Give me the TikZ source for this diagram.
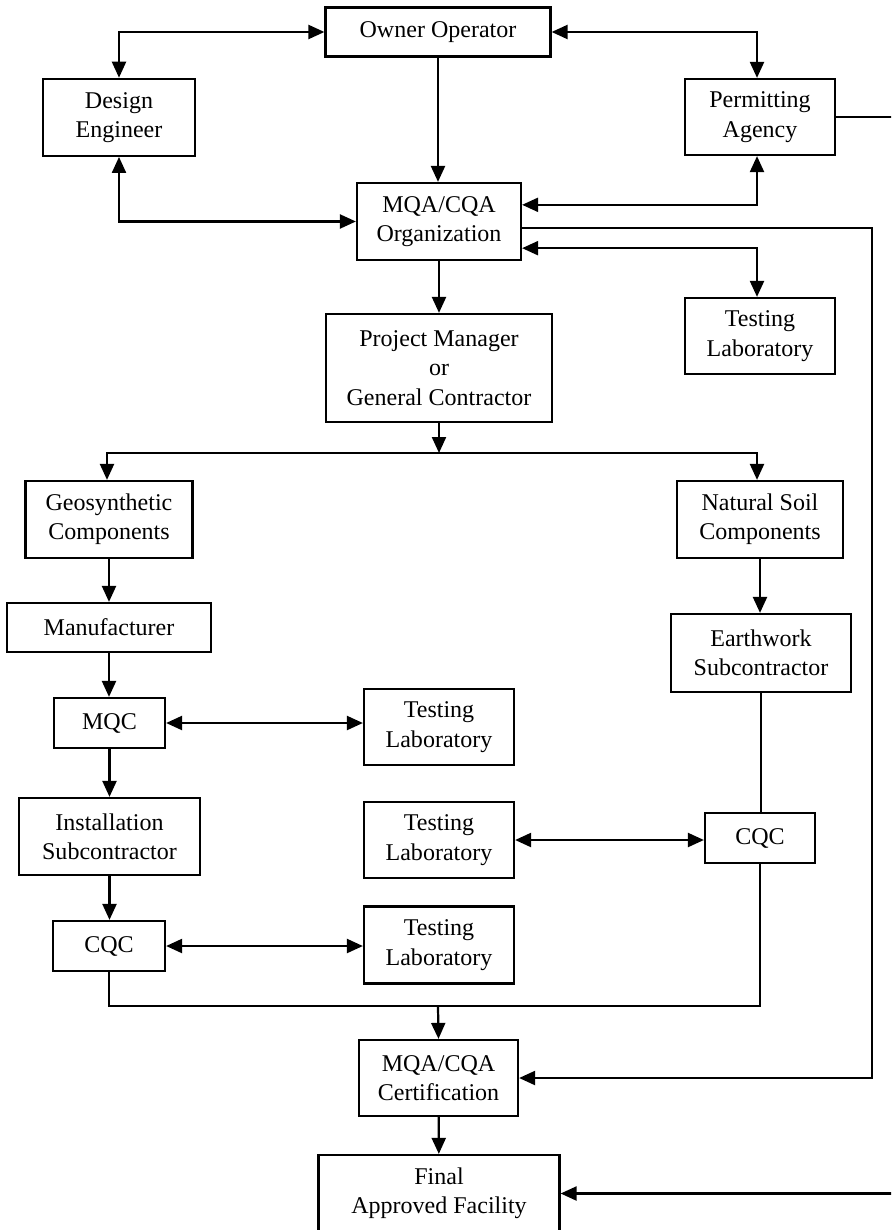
\documentclass[tikz,border=0pt]{standalone}
\usepackage{fontspec}
\setmainfont{Liberation Serif}
\usetikzlibrary{arrows.meta}

\begin{document}
\begin{tikzpicture}[>={Triangle[length=4.8mm, width=4.2mm]}, line width=1.9pt,
  box/.style={draw, align=center, inner sep=2pt, font=\fontsize{20.5}{25}\selectfont}]
\clip (0,0) rectangle (26.73,-36.9);
% top level
\node[box, minimum width=6.75cm, minimum height=1.47cm] (owner) at (13.14,-0.96) {Owner Operator};
\node[box, minimum width=4.56cm, minimum height=2.31cm] (design) at (3.57,-3.52) {Design\\Engineer};
\node[box, minimum width=4.5cm, minimum height=2.28cm] (permit) at (22.8,-3.51) {Permitting\\Agency};
\node[box, minimum width=4.92cm, minimum height=2.31cm] (mqaorg) at (13.17,-6.645) {MQA/CQA\\Organization};
\node[box, minimum width=4.5cm, minimum height=2.28cm] (lab1) at (22.8,-10.08) {Testing\\Laboratory};
\node[box, minimum width=6.78cm, minimum height=3.24cm] (pm) at (13.17,-11.04) {Project Manager\\or\\General Contractor};
\coordinate (split) at (13.17,-13.59);
% geosynthetic branch
\node[box, minimum width=5.01cm, minimum height=2.31cm] (geo) at (3.27,-15.585) {Geosynthetic\\Components};
\node[box, minimum width=6.12cm, minimum height=1.47cm] (manuf) at (3.27,-18.825) {Manufacturer};
\node[box, minimum width=3.33cm, minimum height=1.5cm] (mqc) at (3.285,-21.69) {MQC};
\node[box, minimum width=4.5cm, minimum height=2.28cm] (lab2) at (13.17,-21.81) {Testing\\Laboratory};
\node[box, minimum width=5.43cm, minimum height=2.31cm] (inst) at (3.285,-25.095) {Installation\\Subcontractor};
\node[box, minimum width=3.36cm, minimum height=1.5cm] (cqcl) at (3.27,-28.38) {CQC};
\node[box, minimum width=4.5cm, minimum height=2.31cm] (lab4) at (13.17,-28.35) {Testing\\Laboratory};
% natural soil branch
\node[box, minimum width=4.98cm, minimum height=2.31cm] (soil) at (22.8,-15.585) {Natural Soil\\Components};
\node[box, minimum width=5.4cm, minimum height=2.34cm] (earth) at (22.83,-19.59) {Earthwork\\Subcontractor};
\node[box, minimum width=4.5cm, minimum height=2.28cm] (lab3) at (13.17,-25.2) {Testing\\Laboratory};
\node[box, minimum width=3.3cm, minimum height=1.5cm] (cqcr) at (22.8,-25.14) {CQC};
% bottom
\coordinate (merge) at (13.14,-30.18);
\node[box, minimum width=4.77cm, minimum height=2.28cm] (cert) at (13.155,-32.34) {MQA/CQA\\Certification};
\node[box, minimum width=7.23cm, minimum height=2.31cm] (final) at (13.17,-35.805) {Final\\Approved Facility};
\coordinate (rail) at (26.16,-18);
\coordinate (offrail) at (26.9,-18);

\draw[<->] (owner.west) -| (design.north);
\draw[<->] (owner.east) -| ([xshift=-0.09cm]permit.north);
\draw[->] (owner.south) -- (owner.south |- mqaorg.north);
\draw[<->] (design.south) |- (mqaorg.west);
\draw[<->] ([yshift=0.5cm]mqaorg.east) -| ([xshift=-0.09cm]permit.south);
\draw[->] ([yshift=-0.2cm]mqaorg.east) -| (rail) |- (cert.east);
\draw[<->] ([yshift=-0.8cm]mqaorg.east) -| ([xshift=-0.09cm]lab1.north);
\draw[->] (mqaorg) -- (pm);
\draw[->] (pm.south) -- (split);
\draw[->] (split) -| ([xshift=-0.06cm]geo.north);
\draw[->] (split) -| ([xshift=-0.09cm]soil.north);
\draw[->] (geo) -- (geo |- manuf.north);
\draw[->] (manuf) -- (manuf |- mqc.north);
\draw[<->] (mqc.east) -- (mqc.east -| lab2.west);
\draw[->] (mqc) -- (mqc |- inst.north);
\draw[->] (inst) -- (inst |- cqcl.north);
\draw[<->] (cqcl.east) -- (cqcl.east -| lab4.west);
\draw[->] (soil) -- (soil |- earth.north);
\draw (earth.south) -- (earth.south |- cqcr.north);
\draw[<->] (lab3.east) -- (lab3.east -| cqcr.west);
\draw (cqcl.south) |- (merge) -| (cqcr.south);
\draw[->] (merge) -- (cert.north);
\draw[->] (cert) -- (final);
\draw[->] (permit.east) -| (offrail) |- (final.east);
\end{tikzpicture}
\end{document}
